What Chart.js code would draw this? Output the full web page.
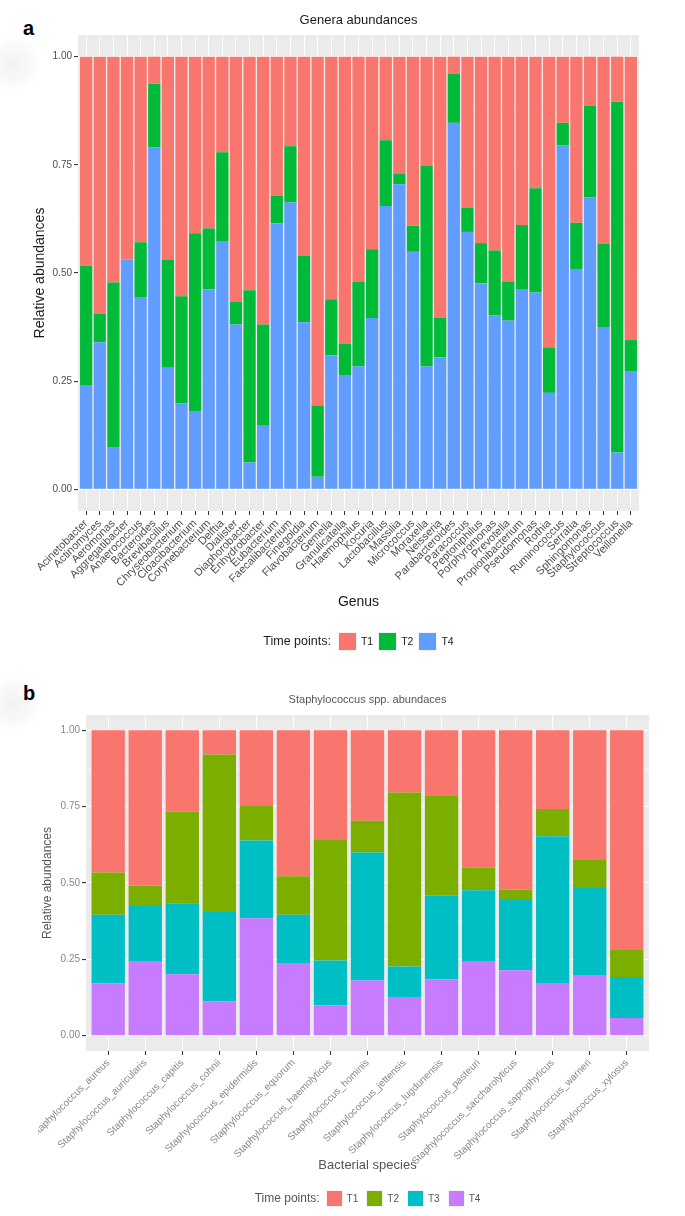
<!DOCTYPE html>
<html>
<head>
<meta charset="utf-8">
<script src="https://cdn.jsdelivr.net/npm/chart.js@4.4.1/dist/chart.umd.min.js"></script>
<style>
  html, body { margin: 0; padding: 0; background: #fff; width: 685px; height: 1216px; overflow: hidden; }
  canvas { position: absolute; }
  .tag { position: absolute; font: bold 20px 'Liberation Sans', Arial, sans-serif; line-height: 20px; color: #000; }
  .smudge { position: absolute; width: 56px; height: 56px; border-radius: 50%;
    background: radial-gradient(circle, rgba(0,0,0,0.05) 0%, rgba(0,0,0,0.025) 45%, rgba(0,0,0,0) 70%); }
  .legend { position: absolute; display: flex; justify-content: center; align-items: center; font-family: 'Liberation Sans', Arial, sans-serif; }
  .legend .key { box-sizing: border-box; border: 1px solid #f2f2f2; }
</style>
</head>
<body>
<div class="smudge" style="left:-14px; top:36px"></div>
<div class="smudge" style="left:-14px; top:676px"></div>
<div class="tag" style="left:23px; top:18px">a</div>
<div class="tag" style="left:23px; top:683px">b</div>
<canvas id="chartA" width="685" height="660" style="left:0; top:0"></canvas>
<!-- panel b is cut on its left edge in the figure, so its canvas starts a bit in -->
<canvas id="chartB" width="647" height="556" style="left:38px; top:660px"></canvas>
<div id="legendA" class="legend" style="left:78px; width:561px; top:632px; height:18px"></div>
<div id="legendB" class="legend" style="left:86px; width:563px; top:1189px; height:18px"></div>
<script>
// ---- panel a: genera, share of reads per time point ----
const genera = ["Acinetobacter", "Actinomyces", "Aeromonas", "Aggregatibacter", "Anaerococcus",
  "Bacteroides", "Brevibacillus", "Chryseobacterium", "Cloacibacterium", "Corynebacterium",
  "Delftia", "Dialister", "Diaphorobacter", "Enhydrobacter", "Eubacterium", "Faecalibacterium",
  "Finegoldia", "Flavobacterium", "Gemella", "Granulicatella", "Haemophilus", "Kocuria",
  "Lactobacillus", "Massilia", "Micrococcus", "Moraxella", "Neisseria", "Parabacteroides",
  "Paracoccus", "Peptoniphilus", "Porphyromonas", "Prevotella", "Propionibacterium",
  "Pseudomonas", "Rothia", "Ruminococcus", "Serratia", "Sphingomonas", "Staphylococcus",
  "Streptococcus", "Veillonella"];
const generaT1 = [0.483, 0.594, 0.522, 0.469, 0.429, 0.063, 0.469, 0.554, 0.408, 0.397,
  0.221, 0.567, 0.540, 0.619, 0.321, 0.207, 0.461, 0.806, 0.561, 0.663, 0.521, 0.445,
  0.193, 0.271, 0.391, 0.253, 0.604, 0.039, 0.349, 0.431, 0.448, 0.520, 0.389, 0.304,
  0.672, 0.153, 0.384, 0.114, 0.433, 0.104, 0.655];
const generaT2 = [0.276, 0.066, 0.380, 0.000, 0.128, 0.147, 0.250, 0.247, 0.411, 0.141,
  0.205, 0.052, 0.398, 0.234, 0.064, 0.130, 0.153, 0.165, 0.129, 0.073, 0.195, 0.159,
  0.152, 0.024, 0.060, 0.463, 0.091, 0.114, 0.056, 0.093, 0.150, 0.090, 0.148, 0.241,
  0.105, 0.052, 0.107, 0.211, 0.192, 0.811, 0.073];
const generaT4 = [0.241, 0.340, 0.098, 0.531, 0.443, 0.790, 0.281, 0.199, 0.181, 0.462,
  0.574, 0.381, 0.062, 0.147, 0.615, 0.663, 0.386, 0.029, 0.310, 0.264, 0.284, 0.396,
  0.655, 0.705, 0.549, 0.284, 0.305, 0.847, 0.595, 0.476, 0.402, 0.390, 0.463, 0.455,
  0.223, 0.795, 0.509, 0.675, 0.375, 0.085, 0.272];

// ---- panel b: Staphylococcus species ----
const species = ["Staphylococcus_aureus", "Staphylococcus_auricularis", "Staphylococcus_capitis",
  "Staphylococcus_cohnii", "Staphylococcus_epidermidis", "Staphylococcus_equorum",
  "Staphylococcus_haemolyticus", "Staphylococcus_hominis", "Staphylococcus_jettensis",
  "Staphylococcus_lugdunensis", "Staphylococcus_pasteuri", "Staphylococcus_saccharolyticus",
  "Staphylococcus_saprophyticus", "Staphylococcus_warneri", "Staphylococcus_xylosus"];
const staphT1 = [0.466, 0.509, 0.266, 0.079, 0.248, 0.478, 0.359, 0.296, 0.204, 0.215, 0.450, 0.521, 0.258, 0.425, 0.717];
const staphT2 = [0.138, 0.066, 0.300, 0.516, 0.113, 0.126, 0.395, 0.104, 0.569, 0.327, 0.074, 0.031, 0.089, 0.091, 0.091];
const staphT3 = [0.224, 0.180, 0.233, 0.293, 0.254, 0.158, 0.146, 0.419, 0.103, 0.274, 0.234, 0.234, 0.480, 0.285, 0.134];
const staphT4 = [0.172, 0.245, 0.201, 0.112, 0.385, 0.238, 0.100, 0.181, 0.124, 0.184, 0.242, 0.214, 0.173, 0.199, 0.058];

const yTicks = [0, 0.25, 0.5, 0.75, 1];

const FONT = "'Liberation Sans', Arial, sans-serif";
Chart.defaults.font.family = FONT;

// grey ggplot-like panel behind the grid
const panelBackground = {
  id: 'panelBackground',
  beforeDraw(chart) {
    const { ctx, chartArea: a } = chart;
    ctx.save();
    ctx.fillStyle = '#EBEBEB';
    ctx.fillRect(a.left, a.top, a.right - a.left, a.bottom - a.top);
    ctx.restore();
  }
};

function stackedChart(canvas, cfg) {
  // major breaks plus the minor ones half way between
  const yGrid = [];
  yTicks.forEach((v, i) => {
    if (i > 0) yGrid.push((yTicks[i - 1] + v) / 2);
    yGrid.push(v);
  });
  const isMajor = (v) => yTicks.includes(v);

  return new Chart(canvas, {
    type: 'bar',
    data: {
      datasets: cfg.series.map(s => ({
        label: s.label,
        data: s.values.map((v, i) => ({ x: i, y: v })),
        backgroundColor: s.color,
        borderWidth: 0,
        barPercentage: 0.9,
        categoryPercentage: 1
      }))
    },
    options: {
      responsive: false,
      animation: false,
      layout: { padding: { left: 0, right: cfg.padRight, top: 0, bottom: 0 } },
      plugins: {
        legend: { display: false },
        tooltip: { enabled: false },
        title: {
          display: true,
          text: cfg.title,
          fullSize: false,
          color: cfg.titleColor,
          font: { size: cfg.titleSize, weight: 'normal' },
          padding: cfg.titlePad
        }
      },
      scales: {
        x: {
          type: 'linear',
          stacked: true,
          offset: false, // bar charts turn this on by default, ggplot pads 0.6 instead
          min: -0.6,
          max: cfg.cats.length - 0.4,
          afterBuildTicks: (s) => { s.ticks = cfg.cats.map((c, i) => ({ value: i })); },
          afterFit: (s) => { s.height = cfg.xAxisHeight; s.paddingLeft = 0; s.paddingRight = 0; },
          ticks: {
            autoSkip: false,
            minRotation: 45,
            maxRotation: 45,
            padding: 2,
            color: cfg.tickColor,
            font: { size: cfg.xTickSize },
            callback: (v) => cfg.cats[v]
          },
          grid: { color: '#fff', lineWidth: 1, tickColor: '#333', tickLength: 4, offset: false },
          border: { display: false },
          title: {
            display: true,
            text: cfg.xTitle,
            color: cfg.axisTitleColor,
            font: { size: cfg.xTitleSize },
            padding: { top: 0, bottom: cfg.xTitlePad }
          }
        },
        y: {
          stacked: true,
          min: -0.05,
          max: 1.05,
          afterBuildTicks: (s) => { s.ticks = yGrid.map(v => ({ value: v })); },
          afterFit: (s) => { s.width = cfg.yAxisWidth; s.paddingTop = 0; s.paddingBottom = 0; },
          ticks: {
            padding: 2,
            color: cfg.tickColor,
            font: { size: 10 },
            callback: (v) => isMajor(v) ? v.toFixed(2) : ''
          },
          grid: {
            color: '#fff',
            lineWidth: (ctx) => isMajor(ctx.tick.value) ? 1.1 : 0.5,
            tickColor: (ctx) => isMajor(ctx.tick.value) ? '#333' : 'rgba(0,0,0,0)',
            tickLength: 4
          },
          border: { display: false },
          title: {
            display: true,
            text: 'Relative abundances',
            color: cfg.axisTitleColor,
            font: { size: cfg.yTitleSize },
            padding: { top: cfg.yTitlePad, bottom: 0 }
          }
        }
      }
    },
    plugins: [panelBackground]
  });
}

function buildLegend(el, series, opt) {
  const title = document.createElement('span');
  title.textContent = 'Time points:';
  title.style.cssText = `font-size:${opt.titleSize}px;color:${opt.color};margin-right:${opt.gap0}px`;
  el.appendChild(title);
  series.forEach((s, i) => {
    const key = document.createElement('span');
    key.className = 'key';
    key.style.cssText = `width:${opt.box}px;height:${opt.box}px;background:${s.color};margin-right:4px`;
    const txt = document.createElement('span');
    txt.textContent = s.label;
    txt.style.cssText = `font-size:${opt.textSize}px;color:${opt.color};margin-right:${i < series.length - 1 ? opt.gap : 0}px`;
    el.appendChild(key);
    el.appendChild(txt);
  });
}

// stacking order: first dataset sits at the bottom
const seriesA = [
  { label: 'T4', values: generaT4, color: '#619CFF' },
  { label: 'T2', values: generaT2, color: '#00BA38' },
  { label: 'T1', values: generaT1, color: '#F8766D' }
];
const seriesB = [
  { label: 'T4', values: staphT4, color: '#C77CFF' },
  { label: 'T3', values: staphT3, color: '#00BFC4' },
  { label: 'T2', values: staphT2, color: '#7CAE00' },
  { label: 'T1', values: staphT1, color: '#F8766D' }
];

stackedChart(document.getElementById('chartA'), {
  cats: genera,
  series: seriesA,
  title: 'Genera abundances',
  titleColor: '#1a1a1a',
  titleSize: 13,
  titlePad: { top: 12.2, bottom: 7.2 },
  padRight: 46,
  yAxisWidth: 78,
  xAxisHeight: 149,
  tickColor: '#4d4d4d',
  xTickSize: 11,
  axisTitleColor: '#1a1a1a',
  xTitle: 'Genus',
  xTitleSize: 14,
  xTitlePad: 49.6,
  yTitleSize: 14,
  yTitlePad: 31.6
});

stackedChart(document.getElementById('chartB'), {
  cats: species,
  series: seriesB,
  title: 'Staphylococcus spp. abundaces',
  titleColor: '#555',
  titleSize: 11,
  titlePad: { top: 33.4, bottom: 8.4 },
  padRight: 36,
  yAxisWidth: 48,
  xAxisHeight: 165,
  tickColor: '#888',
  xTickSize: 10,
  axisTitleColor: '#555',
  xTitle: 'Bacterial species',
  xTitleSize: 13,
  xTitlePad: 43.2,
  yTitleSize: 12,
  yTitlePad: 2.8
});

buildLegend(document.getElementById('legendA'), seriesA.slice().reverse(),
  { titleSize: 12.5, textSize: 10.5, color: '#1a1a1a', box: 19, gap0: 7, gap: 5 });
buildLegend(document.getElementById('legendB'), seriesB.slice().reverse(),
  { titleSize: 12, textSize: 10, color: '#555', box: 17, gap0: 6, gap: 8 });
</script>
</body>
</html>
